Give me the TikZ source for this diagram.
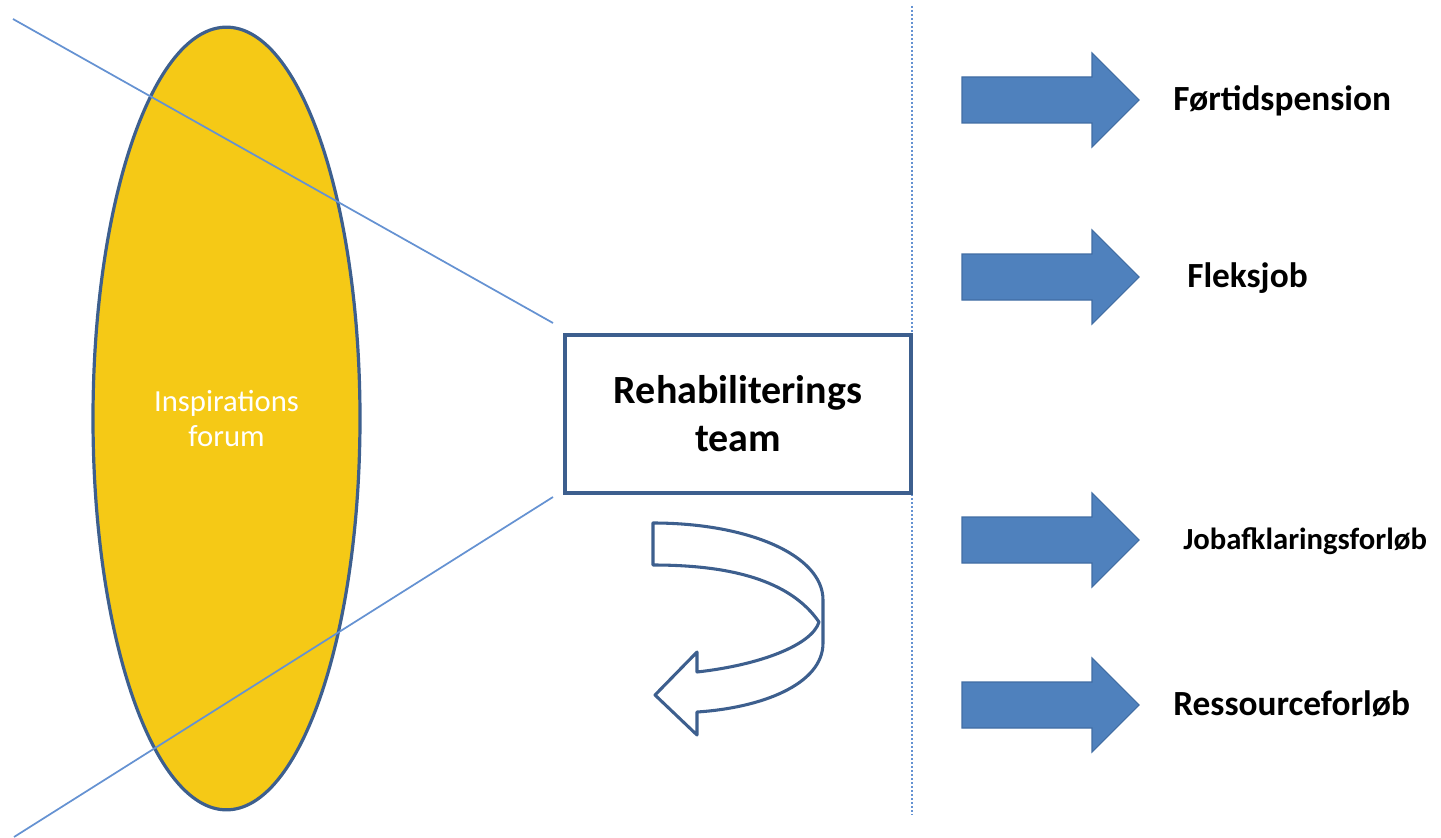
\documentclass[tikz,border=0pt]{standalone}
\usepackage{fontspec}
\setmainfont{Carlito}
\usetikzlibrary{shapes.geometric}
\definecolor{ellfill}{HTML}{F5C916}
\definecolor{darkblue}{HTML}{3D5F8E}
\definecolor{lightblue}{HTML}{6592D2}
\definecolor{arrowfill}{HTML}{4F81BD}
\definecolor{arrowline}{HTML}{416DA3}
\tikzset{
  ellshape/.style={ellipse, draw=darkblue, line width=2.4pt, fill=ellfill, inner sep=0pt,
    minimum width=200.25pt, minimum height=587pt, text=white, align=center,
    font=\fontsize{23}{26.25}\selectfont},
  guide/.style={draw=lightblue, line width=1.3pt},
  teambox/.style={draw=darkblue, line width=2.6pt, fill=white, minimum width=259.5pt, minimum height=118.5pt,
    align=center, font=\fontsize{30}{36}\selectfont\bfseries},
  blockarrow/.style={fill=arrowfill, draw=arrowline, line width=0.8pt, line join=miter},
  outlabel/.style={anchor=west, inner sep=0pt, font=\fontsize{26.5}{30}\selectfont\bfseries},
  smalllabel/.style={anchor=west, inner sep=0pt, font=\fontsize{23}{27}\selectfont\bfseries},
  divider/.style={draw=lightblue, line width=1pt, dash pattern=on 1.2pt off 1.8pt},
  uturn/.style={draw=darkblue, line width=2.3pt, fill=white, line join=round}
}
\begin{document}
\begin{tikzpicture}[x=0.75pt, y=-0.75pt]
\useasboundingbox (0,0) rectangle (1441,838);
% ellipse
\node[ellshape] (ell) at (226.5,418.5) {Inspirations\\forum};
% guide lines
\coordinate (ltop) at (13,19);
\coordinate (lbot) at (14,837);
\coordinate (rtop) at (553,323);
\coordinate (rbot) at (553,497);
\draw[guide] (ltop) -- (rtop);
\draw[guide] (lbot) -- (rbot);
% divider
\coordinate (dtop) at (912,6);
\coordinate (dbot) at (912,815);
\draw[divider] (dtop) -- (dbot);
% team box
\node[teambox] (team) at (738,414) {Rehabiliterings\\team};
% U-turn arrow
\draw[uturn] (653,523) .. controls (748,523) and (823,555) .. (823,600)
  -- (823,643) .. controls (823,685) and (760,708) .. (697,712)
  -- (697,735) -- (655,695) -- (697,652) -- (697,672)
  .. controls (760,665) and (812,645) .. (819,622)
  .. controls (790,580) and (730,565) .. (653,565) -- cycle;
% block arrows
\foreach \yy in {100,277,540,705}{
  \draw[blockarrow] (962,\yy-23) -- (1092,\yy-23) -- (1092,\yy-47) -- (1139,\yy)
    -- (1092,\yy+47) -- (1092,\yy+23) -- (962,\yy+23) -- cycle;
}
% labels
\node[outlabel] (l1) at (1173,101) {Førtidspension};
\node[outlabel] (l2) at (1187,278) {Fleksjob};
\node[smalllabel] (l3) at (1183,541) {Jobafklaringsforløb};
\node[outlabel] (l4) at (1173,704) {Ressourceforløb};
\end{tikzpicture}
\end{document}
